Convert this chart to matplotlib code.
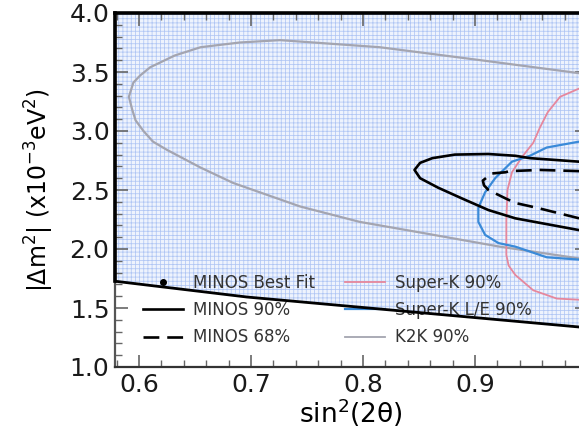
import matplotlib
matplotlib.use("Agg")
import matplotlib.pyplot as plt
from matplotlib.ticker import MultipleLocator

plt.rcParams['font.family'] = ['DejaVu Sans']
plt.rcParams['hatch.linewidth'] = 0.55
plt.rcParams['hatch.color'] = '#b0c6f4'

# K2K 90% contour
k2k_x = [0.993, 0.905, 0.815, 0.726, 0.690, 0.655, 0.632, 0.610, 0.601, 0.595,
         0.591, 0.594, 0.597, 0.604, 0.6125, 0.625, 0.655, 0.684, 0.744, 0.797,
         0.851, 0.922, 0.993]
k2k_y = [3.49, 3.60, 3.71, 3.77, 3.75, 3.71, 3.64, 3.54, 3.47, 3.41,
         3.29, 3.18, 3.09, 3.00, 2.91, 2.84, 2.69, 2.56, 2.36, 2.23,
         2.14, 2.02, 1.92]

# MINOS 90% contour
minos90_x = [0.993, 0.949, 0.936, 0.912, 0.882, 0.862, 0.851, 0.846, 0.851,
             0.867, 0.888, 0.912, 0.936, 0.993]
minos90_y = [2.74, 2.77, 2.79, 2.805, 2.80, 2.77, 2.73, 2.67, 2.60,
             2.52, 2.43, 2.33, 2.26, 2.16]

# MINOS 68% contour
minos68_x = [0.993, 0.958, 0.931, 0.927, 0.915, 0.907, 0.908, 0.912, 0.927,
             0.936, 0.955, 0.993]
minos68_y = [2.66, 2.67, 2.66, 2.65, 2.64, 2.58, 2.54, 2.50, 2.43,
             2.39, 2.35, 2.26]

# Super-K L/E 90% contour
skle_x = [0.993, 0.964, 0.949, 0.933, 0.918, 0.909, 0.903, 0.903, 0.909,
          0.921, 0.936, 0.964, 0.993]
skle_y = [2.91, 2.86, 2.79, 2.74, 2.60, 2.48, 2.35, 2.23, 2.12,
          2.05, 2.02, 1.93, 1.91]

# Super-K 90% contour
sk_x = [0.993, 0.976, 0.965, 0.958, 0.952, 0.942, 0.933, 0.929, 0.928,
        0.928, 0.930, 0.936, 0.952, 0.973, 0.993]
sk_y = [3.36, 3.29, 3.16, 3.03, 2.90, 2.78, 2.65, 2.50, 2.25,
        1.95, 1.86, 1.78, 1.65, 1.58, 1.57]

# edge of the white legend area
edge_x = [0.5768, 0.6964, 1.0]
edge_y = [1.729, 1.593, 1.333]

xticks = [0.6, 0.7, 0.8, 0.9, 1.0]
xticklabels = ['0.6', '0.7', '0.8', '0.9', '']
yticks = [1.0, 1.5, 2.0, 2.5, 3.0, 3.5, 4.0]
yticklabels = ['1.0', '1.5', '2.0', '2.5', '3.0', '3.5', '4.0']

fig = plt.figure(figsize=(5.79, 4.29), dpi=100)
ax = fig.add_axes([115 / 579, 62 / 429, 472 / 579, 354 / 429])
ax.set_xlim(0.5786, 1.0)
ax.set_ylim(1.0, 4.0)

# dotted blue background above the edge, white below
ax.fill_between(edge_x, edge_y, 4.0, facecolor='#eef3fd', edgecolor='#b0c6f4',
                hatch='++++', linewidth=0, zorder=0)
ax.fill_between(edge_x, 1.0, edge_y, color='white', zorder=0)
ax.plot(edge_x, edge_y, color='black', lw=2.0, zorder=6)
ax.axvline(0.5786, ymin=(edge_y[0] - 1.0) / 3.0, ymax=1.0, color='black',
           lw=2.6, zorder=7, clip_on=False)

# contours
ax.plot(k2k_x, k2k_y, color='#a4a5b0', lw=1.6, zorder=2)
ax.plot(sk_x, sk_y, color='#e6879c', lw=1.3, zorder=2)
ax.plot(skle_x, skle_y, color='#3a8ad8', lw=1.6, zorder=3)
ax.plot(minos90_x, minos90_y, color='black', lw=1.9, zorder=4)
ax.plot(minos68_x, minos68_y, color='black', lw=1.9, dashes=(6, 3), zorder=4)

# legend handles
h_best, = ax.plot([], [], 'o', color='black', ms=4, label='MINOS Best Fit')
h_m90, = ax.plot([], [], color='black', lw=1.9, label='MINOS 90%')
h_m68, = ax.plot([], [], color='black', lw=1.9, dashes=(6, 3), label='MINOS 68%')
h_sk, = ax.plot([], [], color='#e6879c', lw=1.3, label='Super-K 90%')
h_skle, = ax.plot([], [], color='#3a8ad8', lw=1.6, label='Super-K L/E 90%')
h_k2k, = ax.plot([], [], color='#a4a5b0', lw=1.3, label='K2K 90%')

leg = ax.legend(handles=[h_best, h_m90, h_m68, h_sk, h_skle, h_k2k], ncol=2,
                loc='upper left', bbox_to_anchor=(143 / 579, 1 - 274 / 429),
                bbox_transform=fig.transFigure, frameon=False, fontsize=12,
                borderpad=0, borderaxespad=0, handlelength=2.4,
                handletextpad=0.6, columnspacing=1.8, labelspacing=0.55)
for t in leg.get_texts():
    t.set_color('#333333')

# ticks
ax.set_xticks(xticks)
ax.set_xticklabels(xticklabels)
ax.set_yticks(yticks)
ax.set_yticklabels(yticklabels)
ax.xaxis.set_minor_locator(MultipleLocator(0.02))
ax.yaxis.set_minor_locator(MultipleLocator(0.1))
ax.tick_params(which='both', direction='in', top=True, right=True,
               color='#666666', labelsize=18, labelcolor='#1a1a1a')
ax.tick_params(which='major', length=9, width=1.2, pad=4)
ax.tick_params(which='minor', length=5, width=1.0)

ax.spines['top'].set_linewidth(2.6)
ax.spines['top'].set_color('black')
ax.spines['bottom'].set_linewidth(1.6)
ax.spines['bottom'].set_color('#333333')
ax.spines['left'].set_linewidth(1.6)
ax.spines['left'].set_color('#555555')
ax.spines['right'].set_visible(False)

ax.set_xlabel('sin$^2$(2θ)', fontsize=19, labelpad=0)
ax.set_ylabel('|Δm$^2$| (x10$^{-3}$eV$^2$)', fontsize=17, labelpad=10)

fig.savefig('out.png', dpi=100)
